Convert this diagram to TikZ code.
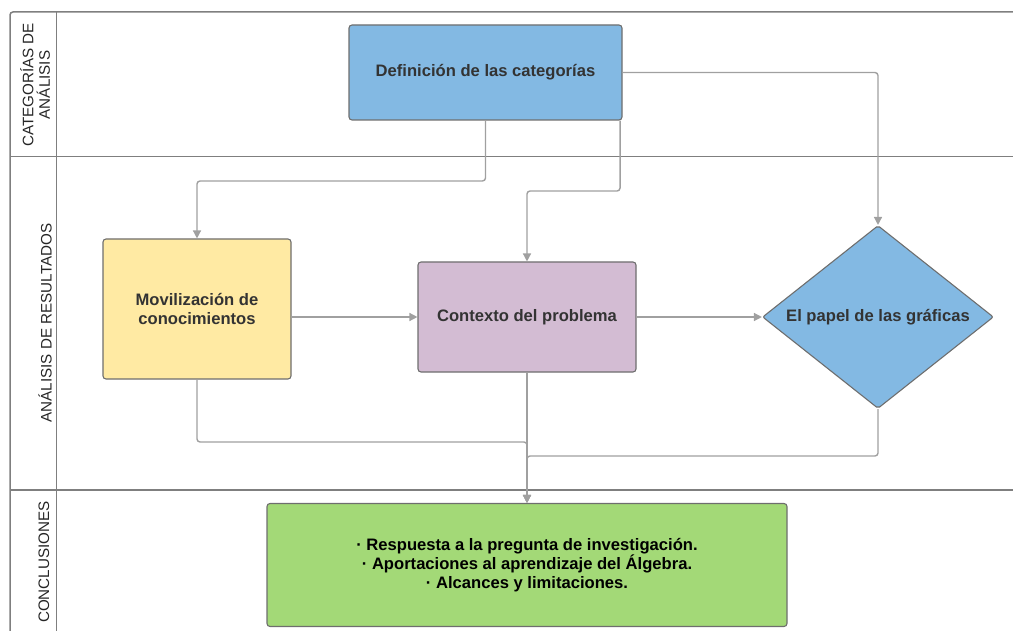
\documentclass[tikz,border=0pt]{standalone}
\usepackage{fontspec}
\setmainfont{Liberation Sans}
\usetikzlibrary{shapes.geometric,arrows.meta,calc}
\definecolor{bluebox}{HTML}{83B9E3}
\definecolor{yellowbox}{HTML}{FFEAA3}
\definecolor{purplebox}{HTML}{D3BCD3}
\definecolor{greenbox}{HTML}{A3D977}
\definecolor{edgegray}{HTML}{6E6E6E}
\definecolor{conngray}{HTML}{A0A0A0}
\definecolor{framegray}{HTML}{7F7F7F}
\definecolor{txtgray}{HTML}{333333}
\tikzset{
  box/.style={draw=edgegray, line width=1.1pt, rounded corners=3pt, align=center,
    font=\fontsize{16.6}{19}\selectfont\bfseries, text=txtgray, inner sep=0pt},
  conn/.style={draw=conngray, line width=1.4pt, rounded corners=3pt},
  arr/.style={conn, -{Triangle[length=8pt,width=8pt]}},
  frame/.style={draw=framegray, line width=1.5pt},
  lanelabel/.style={rotate=90, align=center, font=\fontsize{15.2}{16.5}\selectfont, text=black!85}
}
\begin{document}
\begin{tikzpicture}[x=1pt,y=-1pt]
\useasboundingbox (0,0) rectangle (1013,631);
% frame
\draw[frame, rounded corners=3pt] (10,631) -- (10,12) -- (1013,12);
\draw[frame] (56.5,12) -- (56.5,631);
\draw[frame] (10,156.5) -- (1013,156.5);
\draw[frame] (10,490) -- (1013,490);
% lane labels
\node[lanelabel] (l1) at (35,85) {CATEGORÍAS DE\\ANÁLISIS};
\node[lanelabel] (l2) at (45,323) {ANÁLISIS DE RESULTADOS};
\node[lanelabel] (l3) at (44,562) {CONCLUSIONES};
% nodes
\node[box, fill=bluebox, minimum width=273pt, minimum height=95pt] (def) at (485.5,72.5) {Definición de las categorías};
\node[box, fill=yellowbox, minimum width=188pt, minimum height=140pt] (mov) at (197,309) {Movilización de\\conocimientos};
\node[box, fill=purplebox, minimum width=218pt, minimum height=110pt] (ctx) at (527,317) {Contexto del problema};
\node[box, diamond, rounded corners=2pt, fill=bluebox, shape aspect=1.26, minimum width=231pt, minimum height=183pt] (dia) at (878,317) {El papel de las gráficas};
\node[box, fill=greenbox, text=black, minimum width=520pt, minimum height=123pt] (res) at (527,565) {· Respuesta a la pregunta de investigación.\\· Aportaciones al aprendizaje del Álgebra.\\· Alcances y limitaciones.};
% junction coordinates
\coordinate (j1) at (300,181);
\coordinate (j2) at (560,191);
\coordinate (j3) at (400,442);
\coordinate (j4) at (700,456);
\coordinate (d2) at ([xshift=-2.5pt]def.south east);
% connectors
\draw[arr] (def.south) |- (j1) -| (mov.north);
\draw[arr] (d2) |- (j2) -| (ctx.north);
\draw[arr] (def.east) -| (dia.north);
\draw[arr] (mov.east |- ctx.west) -- (ctx.west);
\draw[arr] (ctx.east) -- (dia.west);
\draw[arr] (mov.south) |- (j3) -| (res.north);
\draw[arr] (dia.south) |- (j4) -| (res.north);
\draw[arr] (ctx.south) -- (res.north);
\end{tikzpicture}
\end{document}
